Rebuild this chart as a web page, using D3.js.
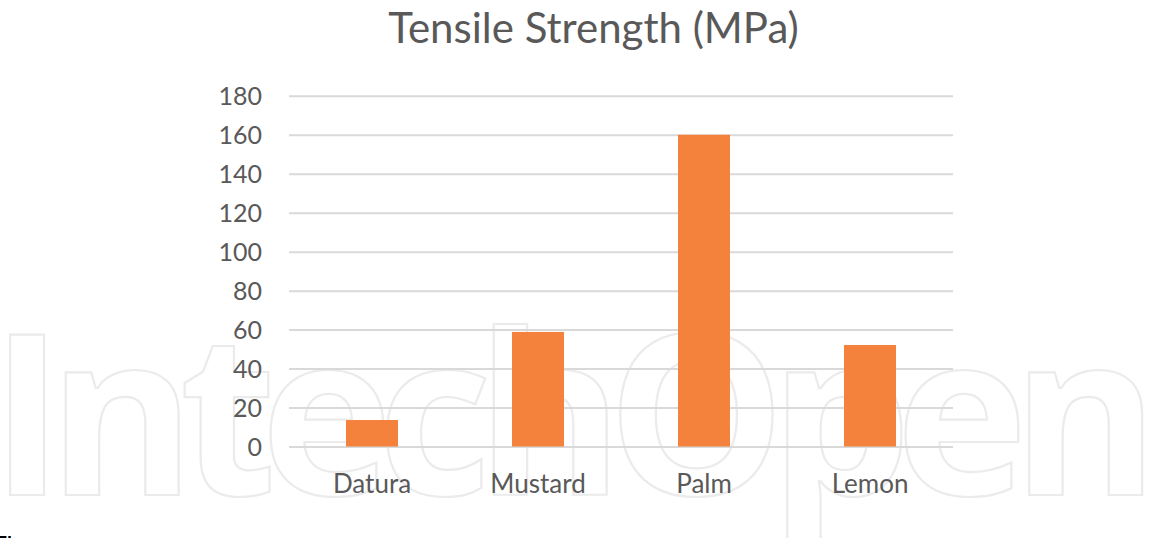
<!DOCTYPE html>
<html>
<head>
<meta charset="utf-8">
<script src="https://cdn.jsdelivr.net/npm/d3@7"></script>
<style>
  html, body { margin: 0; padding: 0; background: #ffffff; }
  svg { display: block; }
</style>
</head>
<body>
<svg id="chart" width="1158" height="538"></svg>
<script>
// Tensile strength of fibres, in MPa
const categories = ["Datura", "Mustard", "Palm", "Lemon"];
const tensileStrength = [13.6, 58.8, 160, 52.1];
const yTicks = [0, 20, 40, 60, 80, 100, 120, 140, 160, 180];
const chartTitle = "Tensile Strength (MPa)";
const watermarkText = "IntechOpen";
const captionText = "Figure";

const plot = { left: 289, right: 953, top: 95.8, bottom: 446.5 };
const textColor = "#595959";
const labelFont = "Lato, 'Open Sans', sans-serif";

const svg = d3.select("#chart");

// faint outlined publisher mark behind the chart
svg.append("text")
  .attr("x", -10)
  .attr("y", 495)
  .attr("font-family", "'Open Sans', sans-serif")
  .attr("font-weight", 700)
  .attr("font-size", 224)
  .attr("letter-spacing", -16)
  .attr("fill", "none")
  .attr("stroke", "#ebebeb")
  .attr("stroke-width", 2.2)
  .text(watermarkText);

const x = d3.scaleBand()
  .domain(categories)
  .range([plot.left, plot.right])
  .paddingInner(0.687)
  .paddingOuter(0.3435);

const y = d3.scaleLinear()
  .domain([0, 180])
  .range([plot.bottom, plot.top]);

// horizontal gridlines and value labels
const yAxis = d3.axisLeft(y)
  .tickValues(yTicks)
  .tickSize(-(plot.right - plot.left))
  .tickPadding(27)
  .tickFormat(d3.format("d"));

const gy = svg.append("g")
  .attr("transform", `translate(${plot.left},0)`)
  .call(yAxis);
gy.select(".domain").remove();
gy.selectAll(".tick line")
  .attr("stroke", "#d9d9d9")
  .attr("stroke-width", 2);
gy.selectAll(".tick text")
  .attr("fill", textColor)
  .attr("font-family", labelFont)
  .attr("font-size", 25)
  .attr("dy", "0.36em");

// bars
svg.append("g")
  .selectAll("rect")
  .data(categories)
  .join("rect")
  .attr("x", d => x(d))
  .attr("width", x.bandwidth())
  .attr("y", (d, i) => y(tensileStrength[i]))
  .attr("height", (d, i) => y(0) - y(tensileStrength[i]))
  .attr("fill", "#f4823c");

// category labels
const xAxis = d3.axisBottom(x).tickSize(0).tickPadding(0);
const gx = svg.append("g")
  .attr("transform", `translate(0,${plot.bottom})`)
  .call(xAxis);
gx.select(".domain").remove();
gx.selectAll(".tick text")
  .attr("fill", textColor)
  .attr("font-family", labelFont)
  .attr("font-size", 26)
  .attr("y", 46.5)
  .attr("dy", 0);

// title
svg.append("text")
  .attr("x", 593.5)
  .attr("y", 43)
  .attr("text-anchor", "middle")
  .attr("fill", textColor)
  .attr("font-family", labelFont)
  .attr("font-size", 42)
  .text(chartTitle);

// caption line running off the bottom edge
svg.append("text")
  .attr("x", -4)
  .attr("y", 549)
  .attr("fill", "#000000")
  .attr("font-family", "'Liberation Sans', sans-serif")
  .attr("font-weight", "bold")
  .attr("font-size", 18)
  .text(captionText);
</script>
</body>
</html>
